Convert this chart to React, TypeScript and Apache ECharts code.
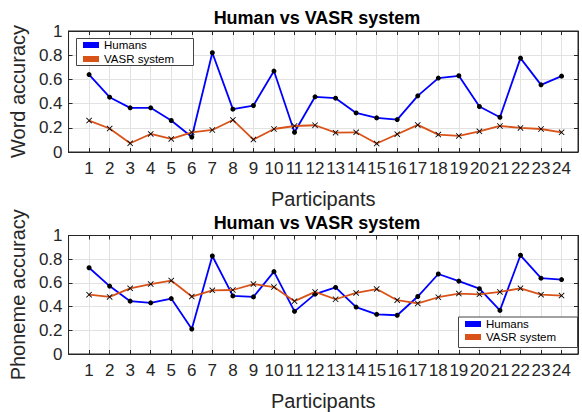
import { useEffect, useRef } from 'react';
import * as echarts from 'echarts';

const participants = [1, 2, 3, 4, 5, 6, 7, 8, 9, 10, 11, 12, 13, 14, 15, 16, 17, 18, 19, 20, 21, 22, 23, 24];
const wordHumans = [0.64, 0.453, 0.365, 0.365, 0.26, 0.124, 0.82, 0.354, 0.384, 0.669, 0.163, 0.456, 0.445, 0.323, 0.282, 0.268, 0.464, 0.611, 0.63, 0.376, 0.287, 0.776, 0.555, 0.627];
const wordVasr = [0.26, 0.194, 0.072, 0.149, 0.108, 0.163, 0.182, 0.265, 0.103, 0.19, 0.215, 0.221, 0.16, 0.163, 0.07, 0.147, 0.224, 0.144, 0.133, 0.171, 0.215, 0.199, 0.19, 0.163];
const phonemeHumans = [0.728, 0.573, 0.446, 0.432, 0.468, 0.211, 0.827, 0.49, 0.482, 0.695, 0.36, 0.505, 0.562, 0.396, 0.335, 0.327, 0.485, 0.675, 0.615, 0.551, 0.368, 0.833, 0.64, 0.628];
const phonemeVasr = [0.501, 0.482, 0.554, 0.59, 0.62, 0.485, 0.537, 0.54, 0.59, 0.565, 0.446, 0.524, 0.462, 0.515, 0.548, 0.454, 0.427, 0.479, 0.51, 0.504, 0.524, 0.554, 0.501, 0.493];

const titleText = 'Human vs VASR system';
const xName = 'Participants';
const yNames = ['Word accuracy', 'Phoneme accuracy'];
const seriesNames = ['Humans', 'VASR system'];

const FONT = '"Liberation Sans", Arial, sans-serif';
const AX = '#262626';
const BLUE = '#0000ff';
const RED = '#d95319';
const XMARK = 'path://M0,1L1,0L5,4L9,0L10,1L6,5L10,9L9,10L5,6L1,10L0,9L4,5Z';

const GRID_TOPS = [31, 235.5];
const GRID_H = 121;

export default function App() {
  const ref = useRef<HTMLDivElement>(null);
  useEffect(() => {
    if (!ref.current) return;
    const chart = echarts.init(ref.current, null, { renderer: 'svg' });

    const grids = GRID_TOPS.map((t) => ({
      left: 56,
      top: t,
      width: 522,
      height: GRID_H,
      show: true,
      borderColor: AX,
      borderWidth: 1,
      backgroundColor: '#fff',
    }));

    const xAxes: any[] = [];
    const yAxes: any[] = [];
    [0, 1].forEach((g) => {
      xAxes.push({
        type: 'value',
        gridIndex: g,
        position: 'bottom',
        min: 0,
        max: 24.8,
        interval: 1,
        name: xName,
        nameLocation: 'middle',
        nameGap: 37,
        nameTextStyle: { fontFamily: FONT, fontSize: 20, color: AX },
        axisLine: { show: true, onZero: false, lineStyle: { color: AX, width: 1 } },
        axisTick: { show: true, inside: true, length: 4, lineStyle: { color: AX } },
        axisLabel: {
          show: true,
          margin: 8,
          fontFamily: FONT,
          fontSize: 17,
          color: AX,
          showMinLabel: true,
          showMaxLabel: true,
          formatter: (v: number) => (v >= 1 && Number.isInteger(v) ? String(v) : ''),
        },
        splitLine: { show: true, lineStyle: { color: '#e2e2e2', width: 1 } },
      });
      xAxes.push({
        type: 'value',
        gridIndex: g,
        position: 'top',
        min: 0,
        max: 24.8,
        interval: 1,
        axisLine: { show: true, onZero: false, lineStyle: { color: AX, width: 1 } },
        axisTick: { show: true, inside: true, length: 4, lineStyle: { color: AX } },
        axisLabel: { show: false },
        splitLine: { show: false },
      });
      yAxes.push({
        type: 'value',
        gridIndex: g,
        position: 'left',
        min: 0,
        max: 1,
        interval: 0.2,
        name: yNames[g],
        nameLocation: 'middle',
        nameRotate: 90,
        nameGap: 35,
        nameTextStyle: { fontFamily: FONT, fontSize: 20, color: AX },
        axisLine: { show: true, onZero: false, lineStyle: { color: AX, width: 1 } },
        axisTick: { show: true, inside: true, length: 4, lineStyle: { color: AX } },
        axisLabel: { show: true, margin: 6, fontFamily: FONT, fontSize: 17, color: AX },
        splitLine: { show: true, lineStyle: { color: '#e2e2e2', width: 1 } },
      });
      yAxes.push({
        type: 'value',
        gridIndex: g,
        position: 'right',
        min: 0,
        max: 1,
        interval: 0.2,
        axisLine: { show: true, onZero: false, lineStyle: { color: AX, width: 1 } },
        axisTick: { show: true, inside: true, length: 4, lineStyle: { color: AX } },
        axisLabel: { show: false },
        splitLine: { show: false },
      });
    });

    const mk = (vals: number[]) => participants.map((p, i) => [p, vals[i]]);
    const humanSeries = (g: number, vals: number[]) => ({
      type: 'line',
      name: seriesNames[0],
      xAxisIndex: g * 2,
      yAxisIndex: g * 2,
      data: mk(vals),
      symbol: 'circle',
      symbolSize: 5,
      itemStyle: { color: '#000' },
      lineStyle: { color: BLUE, width: 1.8 },
      z: 3,
    });
    const vasrSeries = (g: number, vals: number[]) => ({
      type: 'line',
      name: seriesNames[1],
      xAxisIndex: g * 2,
      yAxisIndex: g * 2,
      data: mk(vals),
      symbol: XMARK,
      symbolSize: 6,
      itemStyle: { color: '#000' },
      lineStyle: { color: RED, width: 1.8 },
      z: 4,
    });

    const legendData = [
      { name: seriesNames[0], icon: 'rect', itemStyle: { color: BLUE } },
      { name: seriesNames[1], icon: 'rect', itemStyle: { color: RED } },
    ];
    const legendCommon = {
      orient: 'vertical',
      data: legendData,
      itemWidth: 16,
      itemHeight: 6,
      selectedMode: false,
      z: 10,
      textStyle: { fontFamily: FONT, fontSize: 11.5, color: '#000' },
    };
    const boxes = [
      { x: 76, y: 38, w: 117, h: 27 },
      { x: 458, y: 316.5, w: 119, h: 30.5 },
    ];

    chart.setOption({
      animation: false,
      backgroundColor: '#fff',
      grid: grids,
      xAxis: xAxes,
      yAxis: yAxes,
      legend: [
        { ...legendCommon, left: 83, top: 39, padding: 0, itemGap: 2 },
        { ...legendCommon, left: 465, top: 318, padding: 0, itemGap: 1 },
      ],
      graphic: [
        ...GRID_TOPS.map((t) => ({
          type: 'text',
          x: 317,
          y: t - 13,
          style: {
            text: titleText,
            fontFamily: FONT,
            fontSize: 18,
            fontWeight: 'bold',
            fill: '#000',
            textAlign: 'center',
            textVerticalAlign: 'middle',
          },
        })),
        ...boxes.map((b) => ({
          type: 'rect',
          z: 5,
          shape: { x: b.x + 0.5, y: b.y + 0.5, width: b.w, height: b.h },
          style: { fill: '#fff', stroke: '#444', lineWidth: 1 },
        })),
      ],
      series: [
        humanSeries(0, wordHumans),
        vasrSeries(0, wordVasr),
        humanSeries(1, phonemeHumans),
        vasrSeries(1, phonemeVasr),
      ],
    });
    return () => chart.dispose();
  }, []);
  return (
    <div
      ref={ref}
      style={{ position: 'fixed', left: 0, top: 0, width: 582, height: 412, background: '#fff' }}
    />
  );
}
